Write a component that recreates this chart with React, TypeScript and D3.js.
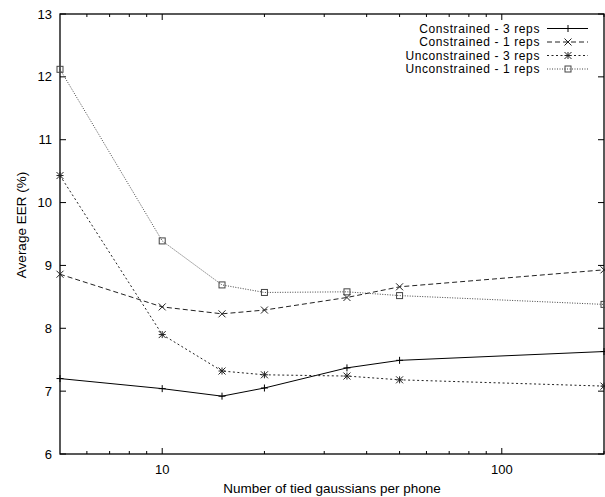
import React, { useEffect, useRef } from 'react';
import * as d3 from 'd3';

// gaussians per phone (x) and average EER (%) for each run
const gaussians = [5, 10, 15, 20, 35, 50, 200];
const constrained3 = [7.2, 7.04, 6.92, 7.05, 7.37, 7.49, 7.63];
const constrained1 = [8.86, 8.34, 8.23, 8.29, 8.49, 8.66, 8.93];
const unconstrained3 = [10.43, 7.9, 7.32, 7.26, 7.24, 7.18, 7.08];
const unconstrained1 = [12.12, 9.39, 8.69, 8.57, 8.58, 8.52, 8.38];

const seriesNames = [
  'Constrained - 3 reps',
  'Constrained - 1 reps',
  'Unconstrained - 3 reps',
  'Unconstrained - 1 reps',
];
const yTicks = [6, 7, 8, 9, 10, 11, 12, 13];
const xMajor = [10, 100];
const xMinor = [6, 7, 8, 9, 20, 30, 40, 50, 60, 70, 80, 90, 200];

const styles = [
  { dash: null, color: '#000', marker: 'plus' },
  { dash: '5,3', color: '#222', marker: 'cross' },
  { dash: '2,2.5', color: '#222', marker: 'star' },
  { dash: '1,1.5', color: '#444', marker: 'box' },
];

const W = 605, H = 497;
const margin = { top: 14, right: 1, bottom: 43, left: 60 };

function drawMarker(g: any, kind: string, x: number, y: number, color: string) {
  const s = 3.5;
  const line = (x1: number, y1: number, x2: number, y2: number) =>
    g.append('line').attr('x1', x1).attr('y1', y1).attr('x2', x2).attr('y2', y2)
      .attr('stroke', color).attr('stroke-width', 1);
  if (kind === 'plus' || kind === 'star') {
    line(x - s, y, x + s, y);
    line(x, y - s, x, y + s);
  }
  if (kind === 'cross' || kind === 'star') {
    line(x - s, y - s, x + s, y + s);
    line(x - s, y + s, x + s, y - s);
  }
  if (kind === 'box') {
    g.append('rect').attr('x', x - 3).attr('y', y - 3).attr('width', 6).attr('height', 6)
      .attr('fill', 'none').attr('stroke', color).attr('stroke-width', 1);
  }
}

export default function App() {
  const ref = useRef<SVGSVGElement>(null);

  useEffect(() => {
    const svg = d3.select(ref.current);
    svg.selectAll('*').remove();
    const font = '"Liberation Sans", Arial, sans-serif';
    const width = W - margin.left - margin.right;
    const height = H - margin.top - margin.bottom;

    const x = d3.scaleLog().domain([5, 200]).range([margin.left, margin.left + width]);
    const y = d3.scaleLinear().domain([6, 13]).range([margin.top + height, margin.top]);

    const axes = svg.append('g');
    // ticks (inward, both sides)
    yTicks.forEach((t) => {
      axes.append('line').attr('x1', x(5)).attr('x2', x(5) + 6).attr('y1', y(t)).attr('y2', y(t)).attr('stroke', '#000');
      axes.append('line').attr('x1', x(200)).attr('x2', x(200) - 6).attr('y1', y(t)).attr('y2', y(t)).attr('stroke', '#000');
      axes.append('text').attr('x', x(5) - 8).attr('y', y(t)).attr('dy', '0.35em')
        .attr('text-anchor', 'end').attr('font-family', font).attr('font-size', 13).text(t);
    });
    xMajor.forEach((t) => {
      axes.append('line').attr('x1', x(t)).attr('x2', x(t)).attr('y1', y(6)).attr('y2', y(6) - 6).attr('stroke', '#000');
      axes.append('line').attr('x1', x(t)).attr('x2', x(t)).attr('y1', y(13)).attr('y2', y(13) + 6).attr('stroke', '#000');
      axes.append('text').attr('x', x(t)).attr('y', y(6) + 15).attr('dy', '0.35em')
        .attr('text-anchor', 'middle').attr('font-family', font).attr('font-size', 13).text(t);
    });
    xMinor.forEach((t) => {
      axes.append('line').attr('x1', x(t)).attr('x2', x(t)).attr('y1', y(6)).attr('y2', y(6) - 3).attr('stroke', '#000');
      axes.append('line').attr('x1', x(t)).attr('x2', x(t)).attr('y1', y(13)).attr('y2', y(13) + 3).attr('stroke', '#000');
    });
    axes.append('rect').attr('x', x(5)).attr('y', y(13)).attr('width', width).attr('height', height)
      .attr('fill', 'none').attr('stroke', '#000').attr('stroke-width', 1.3);

    axes.append('text').attr('x', 332).attr('y', 488).attr('dy', '0.35em')
      .attr('text-anchor', 'middle').attr('font-family', font).attr('font-size', 13.5)
      .text('Number of tied gaussians per phone');
    axes.append('text').attr('transform', 'translate(21,225) rotate(-90)')
      .attr('dy', '0.35em').attr('text-anchor', 'middle').attr('font-family', font).attr('font-size', 13.5)
      .text('Average EER (%)');

    const allSeries = [constrained3, constrained1, unconstrained3, unconstrained1];
    allSeries.forEach((vals, i) => {
      const st = styles[i];
      const pts = vals.map((v, j) => [gaussians[j], v] as [number, number]);
      const lineGen = d3.line<[number, number]>().x((d) => x(d[0])).y((d) => y(d[1]));
      const g = svg.append('g');
      g.append('path').datum(pts).attr('d', lineGen).attr('fill', 'none')
        .attr('stroke', st.color).attr('stroke-width', 1)
        .attr('stroke-dasharray', st.dash);
      pts.forEach((p) => drawMarker(g, st.marker, x(p[0]), y(p[1]), st.color));

      // legend row
      const ly = 28.5 + i * 13.5;
      g.append('text').attr('x', 540).attr('y', ly).attr('dy', '0.35em').attr('text-anchor', 'end')
        .attr('font-family', font).attr('font-size', 12).attr('letter-spacing', 0.6)
        .text(seriesNames[i]);
      g.append('line').attr('x1', 547).attr('x2', 588).attr('y1', ly).attr('y2', ly)
        .attr('stroke', st.color).attr('stroke-width', 1).attr('stroke-dasharray', st.dash);
      drawMarker(g, st.marker, 568, ly, st.color);
    });
  }, []);

  return (
    <svg ref={ref} width={W} height={H}
      style={{ position: 'absolute', left: 0, top: 0, background: '#fff' }} />
  );
}
